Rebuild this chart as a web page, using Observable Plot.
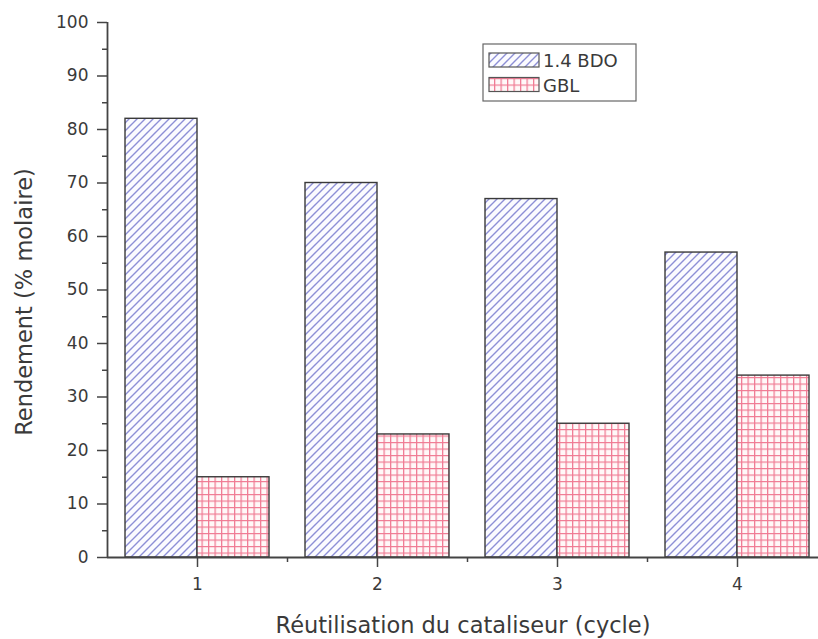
<!DOCTYPE html>
<html><head><meta charset="utf-8">
<script src="https://cdn.jsdelivr.net/npm/d3@7"></script>
<script src="https://cdn.jsdelivr.net/npm/@observablehq/plot@0.6"></script>
<style>body{margin:0;background:#fff}</style>
</head><body><div id="chart"></div>
<script>
const cycles = [1, 2, 3, 4];
const bdo = [82, 70, 67, 57];
const gbl = [15, 23, 25, 34];
const seriesNames = ["1.4 BDO", "GBL"];
const yTicks = [0, 10, 20, 30, 40, 50, 60, 70, 80, 90, 100];
const yMinor = [5, 15, 25, 35, 45, 55, 65, 75, 85, 95];
const xMinor = [1.5, 2.5, 3.5];
const xDomain = [0.5, 4.45];
const barW = 0.4;

const rows = [];
cycles.forEach((c, i) => {
  rows.push({cycle: c, s: seriesNames[0], v: bdo[i], x1: c - barW, x2: c});
  rows.push({cycle: c, s: seriesNames[1], v: gbl[i], x1: c, x2: c + barW});
});

const axisColor = "#444";
const textColor = "#3a3a3a";
const font = "DejaVu Sans, sans-serif";

const plot = Plot.plot({
  width: 818, height: 639,
  marginLeft: 107, marginRight: 0, marginTop: 22, marginBottom: 82,
  style: {fontFamily: font, background: "#fff", color: textColor},
  x: {type: "linear", domain: xDomain},
  y: {domain: [0, 100]},
  marks: [
    Plot.rectY(rows, {x1: "x1", x2: "x2", y1: 0, y2: "v",
      fill: d => d.s === seriesNames[0] ? "url(#hatch)" : "url(#grid)",
      stroke: "#3a3a3a", strokeWidth: 1.4}),
    Plot.axisY({ticks: yTicks, tickSize: 10, tickPadding: 9, fontSize: 17, label: null, stroke: axisColor, strokeWidth: 1.5, fill: textColor}),
    Plot.axisY({ticks: yMinor, tickSize: 5, tickFormat: () => "", label: null, stroke: axisColor, strokeWidth: 1.5}),
    Plot.axisX({ticks: cycles, tickSize: 10, tickPadding: 10, fontSize: 17, label: null, stroke: axisColor, strokeWidth: 1.5, fill: textColor, tickFormat: d => String(d)}),
    Plot.axisX({ticks: xMinor, tickSize: 5, tickFormat: () => "", label: null, stroke: axisColor, strokeWidth: 1.5}),
    Plot.ruleY([0], {stroke: axisColor, strokeWidth: 1.8}),
    Plot.ruleX([xDomain[0]], {stroke: axisColor, strokeWidth: 1.8}),
    Plot.text(["Réutilisation du cataliseur (cycle)"], {frameAnchor: "bottom", textAnchor: "middle", lineAnchor: "middle", dy: 68, fontSize: 22.5, fill: textColor}),
    Plot.text(["Rendement (% molaire)"], {frameAnchor: "left", textAnchor: "middle", lineAnchor: "middle", dx: -83, dy: 12, rotate: -90, fontSize: 22.5, fill: textColor})
  ]
});

const svg = d3.select(plot);
const defs = svg.insert("defs", ":first-child");
const h = defs.append("pattern").attr("id", "hatch").attr("patternUnits", "userSpaceOnUse")
  .attr("width", 8).attr("height", 8);
h.append("rect").attr("width", 8).attr("height", 8).attr("fill", "#fbfbff");
h.append("path").attr("d", "M-2,2 L2,-2 M0,8 L8,0 M6,10 L10,6").attr("stroke", "#8d8fd6").attr("stroke-width", 1.4);
const g = defs.append("pattern").attr("id", "grid").attr("patternUnits", "userSpaceOnUse")
  .attr("width", 6.5).attr("height", 6.5);
g.append("rect").attr("width", 6.5).attr("height", 6.5).attr("fill", "#fff8f8");
g.append("path").attr("d", "M0.6,0 V6.5 M0,0.6 H6.5").attr("stroke", "#f07a93").attr("stroke-width", 1.3);

// legend
const lg = svg.append("g").attr("font-family", font).attr("text-anchor", "start");
lg.append("rect").attr("x", 483).attr("y", 44).attr("width", 153).attr("height", 57)
  .attr("fill", "#fff").attr("stroke", "#666").attr("stroke-width", 1.2);
seriesNames.forEach((name, i) => {
  const y0 = 53 + i * 24.5;
  lg.append("rect").attr("x", 489).attr("y", y0).attr("width", 50).attr("height", 14)
    .attr("fill", i === 0 ? "url(#hatch)" : "url(#grid)").attr("stroke", "#555").attr("stroke-width", 1.2);
  lg.append("text").attr("x", 543).attr("y", y0 + 14).attr("font-size", 18).attr("fill", textColor).text(name);
});

document.getElementById("chart").appendChild(plot);
</script>
</body></html>
